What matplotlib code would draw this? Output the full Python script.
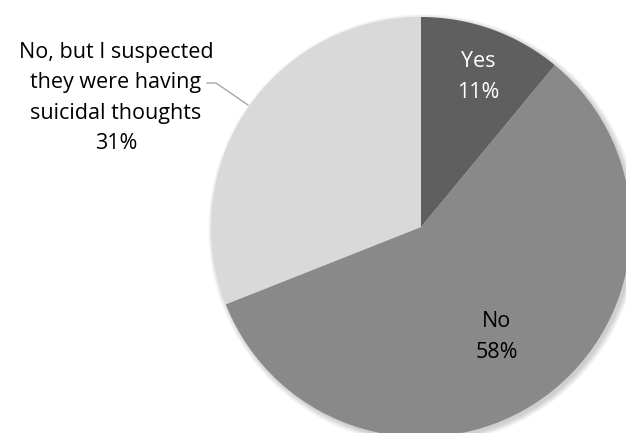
import matplotlib.pyplot as plt
from matplotlib.patches import Circle

plt.rcParams['font.family'] = ['Open Sans', 'DejaVu Sans']

labels = ['Yes', 'No', 'No, but I suspected\nthey were having\nsuicidal thoughts']
shares = [11, 58, 31]
colors = ['#5f5f5f', '#898989', '#d9d9d9']

W, H = 626, 433
fig = plt.figure(figsize=(W / 100, H / 100), dpi=100)
ax = fig.add_axes([0, 0, 1, 1])

cx, cy, R = 421, H - 227, 210

# soft drop shadow under the pie
for k in range(12):
    ax.add_patch(Circle((cx + 2.5, cy - 2.5), R + k * 0.5, color='black',
                        alpha=0.016, lw=0, zorder=0))

wedges, _ = ax.pie(shares, colors=colors, startangle=90, counterclock=False,
                   center=(cx, cy), radius=R, frame=True,
                   wedgeprops=dict(linewidth=0))
ax.set_xlim(0, W)
ax.set_ylim(0, H)
ax.set_aspect('equal')
ax.axis('off')

fs = 15.5
ls = 1.6
ax.text(478, H - 77, f'{labels[0]}\n{shares[0]}%', ha='center', va='center',
        color='white', fontsize=fs, linespacing=ls)
ax.text(497, H - 337, f'{labels[1]}\n{shares[1]}%', ha='center', va='center',
        color='black', fontsize=fs, linespacing=ls)
ax.text(116, H - 98, f'{labels[2]}\n{shares[2]}%', ha='center', va='center',
        color='black', fontsize=fs, linespacing=ls)

# leader line from the outside label to its slice
ax.plot([207, 216, 248], [H - 83, H - 83, H - 105], color='#a6a6a6', lw=1)

fig.savefig('out.png', dpi=100)
